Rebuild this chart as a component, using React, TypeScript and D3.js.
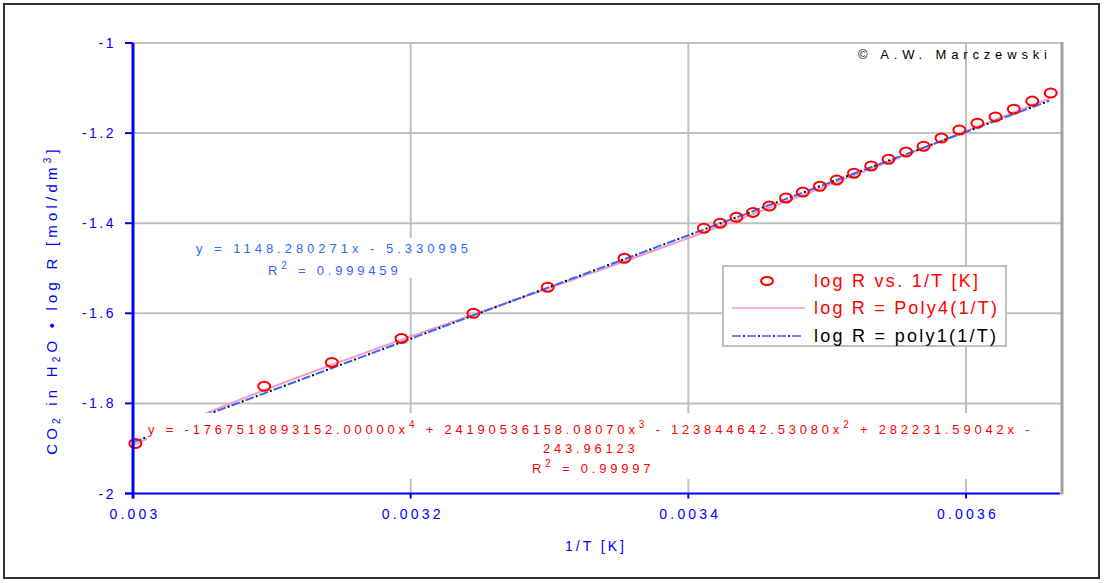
import React, { useEffect, useRef } from 'react';
import * as d3 from 'd3';

// 1/T [1/K] and log R
const invT = [
  0.0030017, 0.0030945, 0.0031432, 0.0031934, 0.0032452, 0.0032987, 0.003354,
  0.0034112, 0.0034229, 0.0034347, 0.0034465, 0.0034584, 0.0034704, 0.0034825,
  0.0034947, 0.0035069, 0.0035193, 0.0035317, 0.0035442, 0.0035568, 0.0035695,
  0.0035823, 0.0035952, 0.0036082, 0.0036212, 0.0036344, 0.0036477, 0.003661,
];
const logR = [
  -1.889, -1.762, -1.709, -1.656, -1.6, -1.542, -1.478,
  -1.411, -1.4, -1.387, -1.376, -1.362, -1.344, -1.331,
  -1.318, -1.304, -1.289, -1.273, -1.258, -1.242, -1.229,
  -1.211, -1.193, -1.178, -1.164, -1.147, -1.129, -1.111,
];
// fit coefficients as printed on the chart (constant term first)
const poly4Coef = [-243.96123, 282231.59042, -123844642.5308, 24190536158.0807, -1767518893152.0];
const poly1Coef = [-5.330995, 1148.280271];

const xTicks = [0.003, 0.0032, 0.0034, 0.0036];
const xTickLabels = ['0.003', '0.0032', '0.0034', '0.0036'];
const yTicks = [-2, -1.8, -1.6, -1.4, -1.2, -1];
const yTickLabels = ['-2', '-1.8', '-1.6', '-1.4', '-1.2', '-1'];

const FONT = 'Arial, "Liberation Sans", sans-serif';

const App = () => {
  const ref = useRef<SVGSVGElement>(null);

  useEffect(() => {
    const width = 1105;
    const height = 583;
    const svg = d3.select(ref.current);
    svg.selectAll('*').remove();
    svg.attr('width', width).attr('height', height);

    const x = d3.scaleLinear().domain([0.003, 0.0036677]).range([133, 1060]);
    const y = d3.scaleLinear().domain([-2, -1]).range([493.5, 43]);

    // background + outer frame
    svg.append('rect').attr('width', width).attr('height', height).attr('fill', '#fff');
    svg.append('rect').attr('x', 4).attr('y', 4).attr('width', 1095).attr('height', 574)
      .attr('fill', 'none').attr('stroke', '#333').attr('stroke-width', 2);

    // grid
    svg.append('g').selectAll('line').data(xTicks.slice(1)).enter().append('line')
      .attr('x1', d => x(d)).attr('x2', d => x(d)).attr('y1', y(-1)).attr('y2', y(-2))
      .attr('stroke', '#c0c0c0').attr('stroke-width', 2);
    svg.append('g').selectAll('line').data(yTicks.slice(1)).enter().append('line')
      .attr('x1', x(0.003)).attr('x2', 1062).attr('y1', d => y(d)).attr('y2', d => y(d))
      .attr('stroke', '#c0c0c0').attr('stroke-width', 2);
    svg.append('line').attr('x1', 1062).attr('x2', 1062).attr('y1', y(-1) - 1).attr('y2', y(-2) + 1)
      .attr('stroke', '#a0a0a0').attr('stroke-width', 3);

    // fit lines
    const xs = d3.range(0.003, invT[invT.length - 1] + 1e-7, 0.0000025);
    const poly = (c: number[], v: number) => c.reduce((s, k, i) => s + k * Math.pow(v, i), 0);
    const p4 = d3.line<number>().x(d => x(d)).y(d => y(poly(poly4Coef, d)));
    const p1 = d3.line<number>().x(d => x(d)).y(d => y(poly(poly1Coef, d)));

    svg.append('path').attr('d', p4(xs)).attr('fill', 'none')
      .attr('stroke', '#f49ac8').attr('stroke-width', 2);
    svg.append('path').attr('d', p1(xs)).attr('fill', 'none')
      .attr('stroke', '#3366ff').attr('stroke-width', 2).attr('stroke-dasharray', '9 6');
    svg.append('path').attr('d', p1(xs)).attr('fill', 'none')
      .attr('stroke', '#000').attr('stroke-width', 2).attr('stroke-dasharray', '2 13')
      .attr('stroke-dashoffset', -11);

    // points
    svg.append('g').selectAll('ellipse').data(invT).enter().append('ellipse')
      .attr('cx', d => x(d)).attr('cy', (d, i) => y(logR[i]))
      .attr('rx', 6).attr('ry', 4.5)
      .attr('fill', 'none').attr('stroke', '#ff0000').attr('stroke-width', 2);

    // axes
    svg.append('line').attr('x1', 125).attr('x2', 1060).attr('y1', y(-2)).attr('y2', y(-2))
      .attr('stroke', '#0000ff').attr('stroke-width', 2);
    svg.append('line').attr('x1', x(0.003)).attr('x2', x(0.003)).attr('y1', y(-1)).attr('y2', y(-2) + 5)
      .attr('stroke', '#0000ff').attr('stroke-width', 3);
    svg.append('g').selectAll('line').data(xTicks).enter().append('line')
      .attr('x1', d => x(d)).attr('x2', d => x(d)).attr('y1', y(-2)).attr('y2', y(-2) + 5)
      .attr('stroke', '#0000ff').attr('stroke-width', 2);
    svg.append('g').selectAll('line').data(yTicks).enter().append('line')
      .attr('x1', 125).attr('x2', x(0.003)).attr('y1', d => y(d)).attr('y2', d => y(d))
      .attr('stroke', '#0000ff').attr('stroke-width', 2);

    svg.append('g').selectAll('text').data(xTicks).enter().append('text')
      .attr('x', d => x(d) + 2).attr('y', 519).attr('text-anchor', 'middle')
      .attr('font-family', FONT).attr('font-size', 14).attr('fill', '#0000ff')
      .attr('letter-spacing', 3.2)
      .text((d, i) => xTickLabels[i]);
    svg.append('g').selectAll('text').data(yTicks).enter().append('text')
      .attr('x', 116).attr('y', d => y(d) + 5).attr('text-anchor', 'end')
      .attr('font-family', FONT).attr('font-size', 14).attr('fill', '#0000ff')
      .attr('letter-spacing', 2.5)
      .text((d, i) => yTickLabels[i]);

    svg.append('text').attr('x', 596).attr('y', 551).attr('text-anchor', 'middle')
      .attr('font-family', FONT).attr('font-size', 14).attr('fill', '#0000ff')
      .attr('letter-spacing', 3).text('1/T [K]');

    const yl = svg.append('text').attr('transform', 'translate(57,300) rotate(-90)')
      .attr('text-anchor', 'middle').attr('font-family', FONT).attr('font-size', 15)
      .attr('fill', '#0000ff').attr('letter-spacing', 4.2);
    yl.append('tspan').text('CO');
    yl.append('tspan').attr('font-size', 10).attr('dy', 3).text('2');
    yl.append('tspan').attr('dy', -3).text(' in H');
    yl.append('tspan').attr('font-size', 10).attr('dy', 3).text('2');
    yl.append('tspan').attr('dy', -3).text('O • log R [mol/dm');
    yl.append('tspan').attr('font-size', 10).attr('dy', -6).text('3');
    yl.append('tspan').attr('dy', 6).text(']');

    // copyright
    svg.append('text').attr('x', 858).attr('y', 59).attr('font-family', FONT)
      .attr('font-size', 13).attr('fill', '#000').attr('textLength', 189)
      .attr('lengthAdjust', 'spacing').text('© A.W. Marczewski');

    // poly1 equation
    svg.append('rect').attr('x', 190).attr('y', 238).attr('width', 282).attr('height', 40).attr('fill', '#fff');
    svg.append('text').attr('x', 196).attr('y', 253).attr('font-family', FONT).attr('font-size', 13)
      .attr('fill', '#3366ff').attr('textLength', 272).attr('lengthAdjust', 'spacing')
      .text('y = 1148.280271x - 5.330995');
    const r1 = svg.append('text').attr('x', 268).attr('y', 275).attr('font-family', FONT)
      .attr('font-size', 13).attr('fill', '#3366ff').attr('letter-spacing', 3.8);
    r1.append('tspan').text('R');
    r1.append('tspan').attr('dy', -6).attr('font-size', 10).text('2');
    r1.append('tspan').attr('dy', 6).text(' = 0.999459');

    // poly4 equation
    svg.append('rect').attr('x', 147).attr('y', 413).attr('width', 893).attr('height', 66).attr('fill', '#fff');
    const e4 = svg.append('text').attr('x', 148).attr('y', 434).attr('font-family', FONT)
      .attr('font-size', 13).attr('fill', '#ff0000').attr('letter-spacing', 3.8);
    e4.append('tspan').text('y = -1767518893152.00000x');
    e4.append('tspan').attr('dy', -6).attr('font-size', 10).text('4');
    e4.append('tspan').attr('dy', 6).text(' + 24190536158.08070x');
    e4.append('tspan').attr('dy', -6).attr('font-size', 10).text('3');
    e4.append('tspan').attr('dy', 6).text(' - 123844642.53080x');
    e4.append('tspan').attr('dy', -6).attr('font-size', 10).text('2');
    e4.append('tspan').attr('dy', 6).text(' + 282231.59042x -');
    svg.append('text').attr('x', 543).attr('y', 453).attr('font-family', FONT).attr('font-size', 13)
      .attr('fill', '#ff0000').attr('letter-spacing', 3.8).text('243.96123');
    const r4 = svg.append('text').attr('x', 532).attr('y', 473).attr('font-family', FONT)
      .attr('font-size', 13).attr('fill', '#ff0000').attr('letter-spacing', 3.8);
    r4.append('tspan').text('R');
    r4.append('tspan').attr('dy', -6).attr('font-size', 10).text('2');
    r4.append('tspan').attr('dy', 6).text(' = 0.99997');

    // legend
    const lg = svg.append('g');
    lg.append('rect').attr('x', 723).attr('y', 266).attr('width', 283).attr('height', 80)
      .attr('fill', '#fff').attr('stroke', '#c0c0c0').attr('stroke-width', 2);
    lg.append('ellipse').attr('cx', 767).attr('cy', 281).attr('rx', 6).attr('ry', 4)
      .attr('fill', 'none').attr('stroke', '#ff0000').attr('stroke-width', 2);
    lg.append('line').attr('x1', 732).attr('x2', 805).attr('y1', 308).attr('y2', 308)
      .attr('stroke', '#f49ac8').attr('stroke-width', 1.5);
    lg.append('line').attr('x1', 732).attr('x2', 803).attr('y1', 336).attr('y2', 336)
      .attr('stroke', '#3366ff').attr('stroke-width', 1.5).attr('stroke-dasharray', '9 6');
    lg.append('line').attr('x1', 732).attr('x2', 803).attr('y1', 336).attr('y2', 336)
      .attr('stroke', '#000').attr('stroke-width', 1.5).attr('stroke-dasharray', '2 13')
      .attr('stroke-dashoffset', -11);
    const legendText = [
      { t: 'log R vs. 1/T [K]', y: 287, c: '#ff0000', w: 164 },
      { t: 'log R = Poly4(1/T)', y: 314, c: '#ff0000', w: 183 },
      { t: 'log R = poly1(1/T)', y: 342, c: '#000', w: 182 },
    ];
    lg.selectAll('text.lt').data(legendText).enter().append('text')
      .attr('x', 814).attr('y', d => d.y).attr('font-family', FONT).attr('font-size', 18)
      .attr('fill', d => d.c).attr('textLength', d => d.w).attr('lengthAdjust', 'spacing')
      .text(d => d.t);
  }, []);

  return (
    <svg ref={ref} style={{ position: 'absolute', left: 0, top: 0 }}></svg>
  );
};

export default App;
